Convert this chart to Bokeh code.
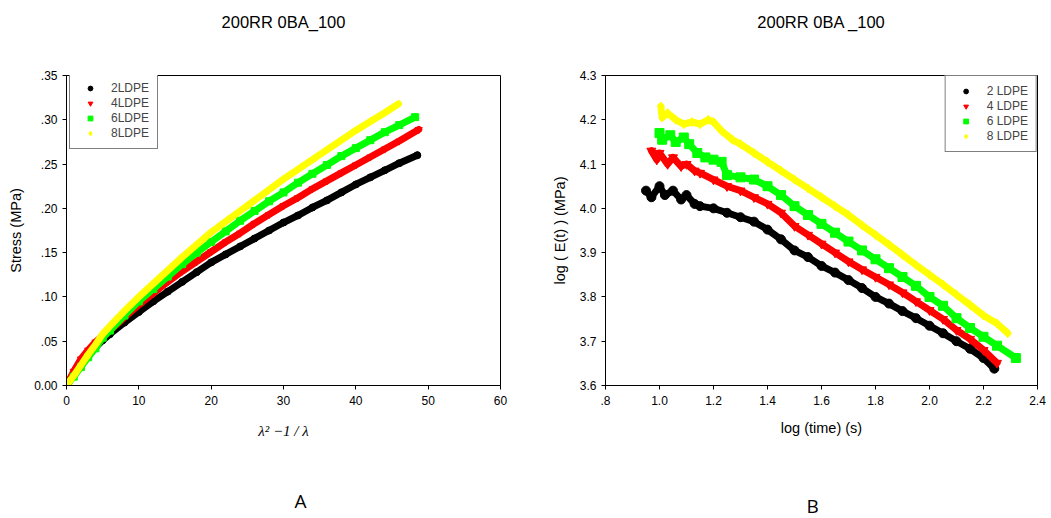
from bokeh.plotting import figure
from bokeh.layouts import row
from bokeh.models import Legend, LegendItem, FixedTicker, Title
from bokeh.embed import file_html
from bokeh.resources import INLINE

# ---------------- Panel A : stress vs lambda^2 - 1/lambda ----------------
a_title = "200RR 0BA_100"
a_x_2 = [0, 1, 2, 3, 4, 5, 6, 8, 10, 12, 14, 16, 18, 20, 22, 24, 26, 28, 30, 32, 34, 36, 38, 40, 42, 44, 46, 48.5]
a_y_2 = [0, 0.012, 0.023, 0.033, 0.043, 0.051, 0.058, 0.071, 0.083, 0.095, 0.106, 0.117, 0.128, 0.139,
         0.148, 0.157, 0.166, 0.175, 0.184, 0.192, 0.201, 0.209, 0.218, 0.227, 0.235, 0.243, 0.251, 0.260]
a_x_4 = [0, 1, 2, 3, 4, 5, 6, 8, 10, 12, 14, 16, 18, 20, 22, 24, 26, 28, 30, 32, 34, 36, 38, 40, 42, 44, 46, 48.7]
a_y_4 = [0, 0.016, 0.030, 0.040, 0.049, 0.056, 0.062, 0.077, 0.091, 0.104, 0.117, 0.129, 0.140, 0.151,
         0.162, 0.172, 0.183, 0.193, 0.203, 0.212, 0.222, 0.231, 0.240, 0.249, 0.258, 0.267, 0.276, 0.289]
a_x_6 = [0, 1, 2, 3, 4, 5, 6, 8, 10, 12, 14, 16, 18, 20, 22, 24, 26, 28, 30, 32, 34, 36, 38, 40, 42, 44, 46, 48.2]
a_y_6 = [0, 0.010, 0.021, 0.032, 0.042, 0.054, 0.062, 0.079, 0.095, 0.109, 0.123, 0.137, 0.150, 0.162,
         0.174, 0.186, 0.197, 0.208, 0.218, 0.229, 0.239, 0.249, 0.259, 0.268, 0.277, 0.286, 0.294, 0.303]
a_x_8 = [0, 1, 2, 3, 4, 5, 6, 8, 10, 12, 14, 16, 18, 20, 22, 24, 26, 28, 30, 32, 34, 36, 38, 40, 42, 44, 45.9]
a_y_8 = [0, 0.011, 0.023, 0.035, 0.046, 0.058, 0.067, 0.084, 0.100, 0.115, 0.130, 0.145, 0.159, 0.173,
         0.185, 0.197, 0.209, 0.221, 0.233, 0.244, 0.255, 0.266, 0.277, 0.288, 0.298, 0.308, 0.318]
a_xticks = [0, 10, 20, 30, 40, 50, 60]
a_yticks = [0, 0.05, 0.10, 0.15, 0.20, 0.25, 0.30, 0.35]
a_ytick_labels = ["0.00", ".05", ".10", ".15", ".20", ".25", ".30", ".35"]
a_labels = ["2LDPE", "4LDPE", "6LDPE", "8LDPE"]

# ---------------- Panel B : log E(t) vs log time ----------------
b_title = "200RR 0BA _100"
b_x_2 = [0.95, 0.97, 1.0, 1.02, 1.05, 1.08, 1.1, 1.13, 1.15, 1.2, 1.25, 1.3, 1.35, 1.4, 1.45, 1.5, 1.55,
         1.6, 1.65, 1.7, 1.75, 1.8, 1.85, 1.9, 1.95, 2.0, 2.05, 2.1, 2.15, 2.2, 2.24]
b_y_2 = [4.04, 4.025, 4.05, 4.03, 4.04, 4.02, 4.03, 4.01, 4.005, 4.0, 3.99, 3.98, 3.97, 3.952, 3.93, 3.905,
         3.89, 3.87, 3.855, 3.838, 3.82, 3.80, 3.785, 3.768, 3.752, 3.735, 3.718, 3.70, 3.683, 3.662, 3.638]
b_x_4 = [0.97, 0.99, 1.0, 1.03, 1.05, 1.08, 1.1, 1.13, 1.15, 1.2, 1.25, 1.3, 1.35, 1.4, 1.45, 1.5, 1.55,
         1.6, 1.65, 1.7, 1.75, 1.8, 1.85, 1.9, 1.95, 2.0, 2.05, 2.1, 2.15, 2.2, 2.25]
b_y_4 = [4.13, 4.11, 4.125, 4.10, 4.115, 4.095, 4.10, 4.085, 4.08, 4.065, 4.05, 4.04, 4.025, 4.01, 3.99,
         3.96, 3.94, 3.92, 3.90, 3.88, 3.862, 3.845, 3.828, 3.81, 3.79, 3.77, 3.75, 3.725, 3.705, 3.68, 3.651]
b_x_6 = [1.0, 1.01, 1.04, 1.06, 1.09, 1.11, 1.14, 1.17, 1.2, 1.23, 1.25, 1.3, 1.35, 1.4, 1.45, 1.5, 1.55,
         1.6, 1.65, 1.7, 1.75, 1.8, 1.85, 1.9, 1.95, 2.0, 2.05, 2.1, 2.15, 2.2, 2.25, 2.32]
b_y_6 = [4.17, 4.155, 4.165, 4.15, 4.16, 4.145, 4.125, 4.115, 4.11, 4.105, 4.075, 4.07, 4.065, 4.05, 4.03,
         4.005, 3.985, 3.965, 3.945, 3.925, 3.905, 3.885, 3.865, 3.845, 3.825, 3.80, 3.78, 3.752, 3.73,
         3.71, 3.69, 3.662]
b_x_8 = [1.005, 1.01, 1.03, 1.06, 1.09, 1.12, 1.15, 1.18, 1.2, 1.23, 1.27, 1.3, 1.35, 1.4, 1.45, 1.5, 1.55,
         1.6, 1.65, 1.7, 1.75, 1.8, 1.85, 1.9, 1.95, 2.0, 2.05, 2.1, 2.15, 2.2, 2.25, 2.29]
b_y_8 = [4.23, 4.205, 4.215, 4.20, 4.19, 4.195, 4.19, 4.20, 4.195, 4.175, 4.155, 4.145, 4.125, 4.105, 4.085,
         4.065, 4.045, 4.025, 4.005, 3.985, 3.962, 3.94, 3.918, 3.895, 3.872, 3.85, 3.828, 3.805, 3.782,
         3.758, 3.74, 3.718]
b_xticks = [0.8, 1.0, 1.2, 1.4, 1.6, 1.8, 2.0, 2.2, 2.4]
b_xtick_labels = [".8", "1.0", "1.2", "1.4", "1.6", "1.8", "2.0", "2.2", "2.4"]
b_yticks = [3.6, 3.7, 3.8, 3.9, 4.0, 4.1, 4.2, 4.3]
b_ytick_labels = ["3.6", "3.7", "3.8", "3.9", "4.0", "4.1", "4.2", "4.3"]
b_labels = ["2 LDPE", "4 LDPE", "6 LDPE", "8 LDPE"]

colors = ["#000000", "#ff0000", "#00ff00", "#ffff00"]
markers = ["circle", "inverted_triangle", "square", "diamond"]

FONT = "Liberation Sans"


def style_axes(p):
    for ax in list(p.xaxis) + list(p.yaxis):
        ax.major_tick_in = 0
        ax.major_tick_out = 4
        ax.minor_tick_line_color = None
        ax.axis_line_color = "black"
        ax.major_tick_line_color = "black"
        ax.major_label_text_font = FONT
        ax.major_label_text_font_size = "12px"
        ax.major_label_text_color = "black"
        ax.axis_label_text_font = FONT
        ax.axis_label_text_font_size = "14.5px"
        ax.axis_label_text_font_style = "normal"
        ax.axis_label_text_color = "black"
    p.xgrid.visible = False
    p.ygrid.visible = False
    p.outline_line_color = "black"
    p.outline_line_alpha = 1
    p.title.align = "center"
    p.title.text_font = FONT
    p.title.text_font_size = "16.5px"
    p.title.text_font_style = "normal"
    p.title.text_color = "black"
    p.title.vertical_align = "bottom"
    p.title.standoff = 0


def spacer(height):
    # empty panel that only reserves vertical room between the frame and a title
    return Title(text=" ", text_font_size="1px", standoff=height)


def make_legend(items):
    return Legend(items=items, location="top_left", margin=0, padding=8, spacing=1,
                  label_height=12, glyph_height=12, glyph_width=24, label_standoff=9,
                  label_text_font=FONT, label_text_font_size="12px",
                  border_line_color="black", border_line_width=1, background_fill_alpha=1)


def panel_letter(text, offset):
    return Title(text=text, align="left", offset=offset, vertical_align="bottom", standoff=0,
                 text_font="Open Sans", text_font_size="19px", text_font_style="normal",
                 text_color="black")


# ---- figure A ----
pA = figure(width=525, height=518, x_range=(0, 60), y_range=(0, 0.35), title=a_title,
            output_backend="svg", toolbar_location=None,
            min_border_left=66, min_border_right=25, min_border_top=75, min_border_bottom=130)
style_axes(pA)
pA.xaxis.ticker = FixedTicker(ticks=a_xticks)
pA.yaxis.ticker = FixedTicker(ticks=a_yticks)
pA.yaxis.major_label_overrides = dict(zip(a_yticks, a_ytick_labels))
pA.yaxis.axis_label = "Stress (MPa)"
pA.yaxis.axis_label_standoff = 7
pA.xaxis.axis_label = "λ² −1 / λ"
pA.xaxis.axis_label_text_font = "Liberation Serif"
pA.xaxis.axis_label_text_font_style = "italic"
pA.xaxis.axis_label_text_font_size = "15px"
pA.xaxis.axis_label_standoff = 15
pA.xaxis.major_label_standoff = 6

itemsA = []
for xs, ys, c, m, lab in zip([a_x_2, a_x_4, a_x_6, a_x_8], [a_y_2, a_y_4, a_y_6, a_y_8],
                             colors, markers, a_labels):
    pA.line(xs, ys, line_color=c, line_width=7, line_cap="round", line_join="round")
    r = pA.scatter(xs, ys, marker=m, size=7, fill_color=c, line_color=c)
    itemsA.append(LegendItem(label=lab, renderers=[r]))
legA = make_legend(itemsA)
legA.location = (3, 236)
pA.add_layout(legA)
pA.add_layout(spacer(42), "above")
pA.add_layout(spacer(41), "below")
pA.add_layout(panel_letter("A", 228), "below")

# ---- figure B ----
pB = figure(width=526, height=518, x_range=(0.8, 2.4), y_range=(3.6, 4.3), title=b_title,
            output_backend="svg", toolbar_location=None,
            min_border_left=80, min_border_right=14, min_border_top=75, min_border_bottom=132)
style_axes(pB)
pB.xaxis.ticker = FixedTicker(ticks=b_xticks)
pB.xaxis.major_label_overrides = dict(zip(b_xticks, b_xtick_labels))
pB.yaxis.ticker = FixedTicker(ticks=b_yticks)
pB.yaxis.major_label_overrides = dict(zip(b_yticks, b_ytick_labels))
pB.yaxis.axis_label = "log ( E(t) ) (MPa)"
pB.yaxis.axis_label_standoff = 9
pB.xaxis.axis_label = "log (time) (s)"
pB.xaxis.axis_label_standoff = 12
pB.xaxis.major_label_standoff = 6

itemsB = []
for xs, ys, c, m, lab in zip([b_x_2, b_x_4, b_x_6, b_x_8], [b_y_2, b_y_4, b_y_6, b_y_8],
                             colors, markers, b_labels):
    pB.line(xs, ys, line_color=c, line_width=7, line_cap="round", line_join="round")
    r = pB.scatter(xs, ys, marker=m, size=9, fill_color=c, line_color=c)
    itemsB.append(LegendItem(label=lab, renderers=[r]))
legB = make_legend(itemsB)
legB.location = "top_right"
pB.add_layout(legB)
pB.add_layout(spacer(42), "above")
pB.add_layout(spacer(49), "below")
pB.add_layout(panel_letter("B", 201), "below")

layout = row(pA, pB)
open("out.html", "w").write(file_html(layout, INLINE))
